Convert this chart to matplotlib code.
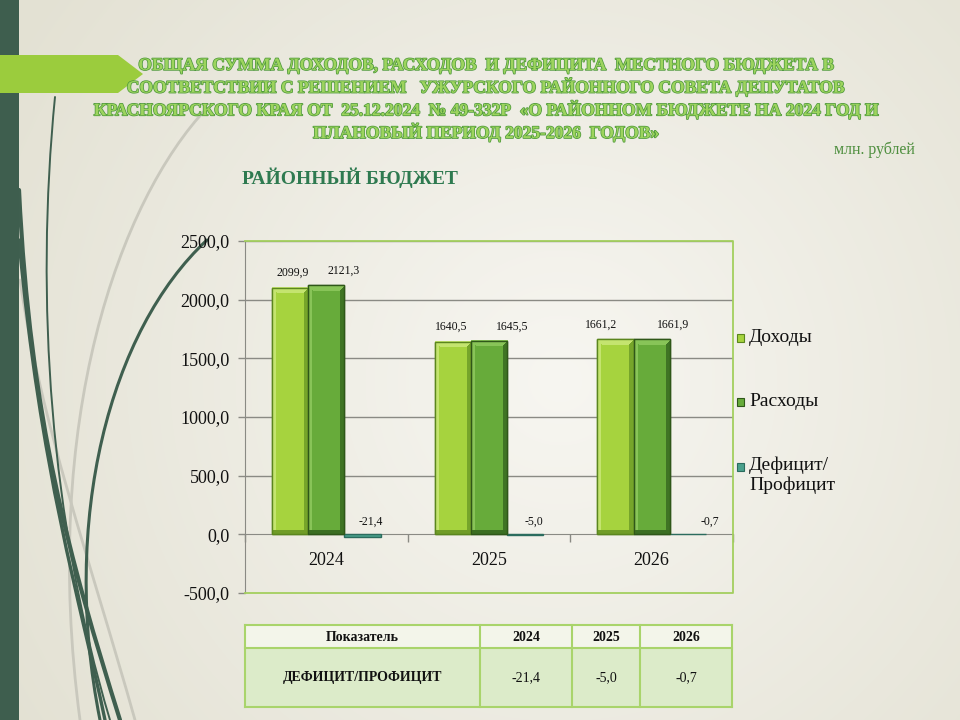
import numpy as np
import matplotlib
matplotlib.use("Agg")
import matplotlib.pyplot as plt
from matplotlib.patches import Rectangle, Polygon, PathPatch
from matplotlib.path import Path
import matplotlib.patheffects as pe
from matplotlib.colors import to_rgb

# ---------------- data ----------------
years = ["2024", "2025", "2026"]
series_names = ["Доходы", "Расходы", "Дефицит/\nПрофицит"]
income = [2099.9, 1640.5, 1661.2]
expenses = [2121.3, 1645.5, 1661.9]
deficit = [-21.4, -5.0, -0.7]
y_ticks = [-500, 0, 500, 1000, 1500, 2000, 2500]
table_header = ["Показатель", "2024", "2025", "2026"]
table_row_label = "ДЕФИЦИТ/ПРОФИЦИТ"

title_lines = [
    "ОБЩАЯ СУММА ДОХОДОВ, РАСХОДОВ  И ДЕФИЦИТА  МЕСТНОГО БЮДЖЕТА В",
    "СООТВЕТСТВИИ С РЕШЕНИЕМ   УЖУРСКОГО РАЙОННОГО СОВЕТА ДЕПУТАТОВ",
    "КРАСНОЯРСКОГО КРАЯ ОТ  25.12.2024  № 49-332Р  «О РАЙОННОМ БЮДЖЕТЕ НА 2024 ГОД И",
    "ПЛАНОВЫЙ ПЕРИОД 2025-2026  ГОДОВ»",
]
subtitle = "РАЙОННЫЙ БЮДЖЕТ"
units = "млн. рублей"

# label offsets (pixels) per series / category — manual placement as in the reference
label_dx = [[2, -2, -14], [17, 23, 21], [8, 9, 22]]

def fmt(v):
    return f"{v:.1f}".replace(".", ",")

W, H = 960, 720
fig = plt.figure(figsize=(W / 100, H / 100), dpi=100)
SERIF = ["Liberation Serif", "DejaVu Serif"]

def fx(x):
    return x / W

def fy(y):
    return 1 - y / H

# ---------------- background ----------------
bg = fig.add_axes([0, 0, 1, 1], zorder=-10)
bg.set_xlim(0, W)
bg.set_ylim(H, 0)
bg.axis("off")
yy, xx = np.mgrid[0:H, 0:W]
d = np.sqrt((xx - 560) ** 2 + (yy - 380) ** 2)
t = np.clip(d / 650, 0, 1)[..., None]
c0 = np.array(to_rgb("#f7f6f1"))
c1 = np.array(to_rgb("#e3e1d3"))
img = c0 * (1 - t) + c1 * t
bg.imshow(img, extent=(0, W, H, 0), aspect="auto", zorder=0)

def curve(pts, color, lw, alpha=1.0):
    codes = [Path.MOVETO] + [Path.CURVE4] * (len(pts) - 1)
    p = Path(pts, codes)
    bg.add_patch(PathPatch(p, facecolor="none", edgecolor=color, lw=lw, alpha=alpha, zorder=2,
                           capstyle="round"))

dark = "#3f5f4f"
grey = "#c9c8bd"
curve([(207, 108), (120, 200), (40, 420), (80, 720)], grey, 2.0)
curve([(20, 280), (40, 420), (90, 560), (135, 720)], grey, 2.0)
curve([(55, 97), (35, 300), (50, 520), (110, 720)], dark, 1.4)
curve([(19, 190), (30, 420), (70, 560), (120, 720)], dark, 3.0)
curve([(19, 240), (40, 470), (80, 600), (105, 720)], dark, 2.4)
curve([(207, 240), (110, 330), (60, 520), (100, 720)], dark, 2.2)

bg.add_patch(Rectangle((0, 0), 19, H, facecolor="#3e5e4e", edgecolor="none", zorder=3))
bg.add_patch(Polygon([(0, 55), (118, 55), (143, 74), (118, 93), (0, 93)], closed=True,
                     facecolor="#9bcc3d", edgecolor="none", zorder=4))

# ---------------- title texts ----------------
fig.text(fx(486), fy(100), "\n".join(title_lines), ha="center", va="center",
         fontsize=12.6, fontweight="bold", family=SERIF, color="#9dd45e",
         linespacing=1.29,
         path_effects=[pe.withStroke(linewidth=1.1, foreground="#4f9a3c")])
fig.text(fx(915), fy(150), units, ha="right", va="center", fontsize=11.5, family=SERIF,
         color="#4f8f3f")
fig.text(fx(242), fy(178), subtitle, ha="left", va="center", fontsize=14,
         fontweight="bold", family=SERIF, color="#2e7a50")

# ---------------- chart ----------------
L, R, T, B = 245, 733, 241, 593
ax = fig.add_axes([fx(L), fy(B), (R - L) / W, (B - T) / H])
ax.set_facecolor("none")
ax.set_xlim(-0.5, 2.5)
ax.set_ylim(-500, 2500)

for v in y_ticks:
    if v not in (0, -500):
        ax.axhline(v, color="#8a8a84", lw=1.0, zorder=1)

ax.spines["top"].set_visible(False)
ax.spines["right"].set_visible(False)
ax.spines["bottom"].set_position(("data", 0))
ax.spines["bottom"].set_color("#8a8a84")
ax.spines["left"].set_color("#8a8a84")
border = "#a3cf5e"
ax.plot([0, 1, 1, 0], [1, 1, 0, 0], transform=ax.transAxes, color=border, lw=1.3,
        clip_on=False, zorder=3)

ax.set_yticks(y_ticks)
ax.set_yticklabels([fmt(v) for v in y_ticks], fontsize=13, family=SERIF, color="#111111")
ax.tick_params(axis="y", direction="out", length=5, width=1, color="#8a8a84", pad=6)
ax.set_xticks([-0.5, 0.5, 1.5, 2.5])
ax.set_xticklabels([])
ax.tick_params(axis="x", which="major", direction="out", length=6, width=1, color="#8a8a84")
ax.set_xticks([0, 1, 2], minor=True)
ax.set_xticklabels(years, minor=True, fontsize=13, family=SERIF, color="#111111")
ax.tick_params(axis="x", which="minor", length=0, pad=13)

bw = 0.222
offsets = [-bw, 0, bw]
x = np.arange(len(years))
styles = [
    dict(base="#a6d33e", light="#c4e46f", darkc="#76a52a", edge="#5b861e"),
    dict(base="#67ab3a", light="#88c458", darkc="#3f7424", edge="#2f5719"),
    dict(base="#4aa08c", light="#6dbba6", darkc="#2f7868", edge="#2b6c5e"),
]
all_series = [income, expenses, deficit]

fig.canvas.draw()

def shaded_bar(xc, val, st):
    patch = ax.bar(xc, val, width=bw, color=st["base"], edgecolor=st["edge"], lw=1.0, zorder=4)[0]
    if abs(val) < 100:
        return patch
    x0, x1 = xc - bw / 2, xc + bw / 2
    p0 = ax.transData.transform((x0, 0))
    p1 = ax.transData.transform((x1, val))
    nr, nc = int(abs(p1[1] - p0[1])), int(abs(p1[0] - p0[0]))
    base = np.array(to_rgb(st["base"]))
    light = np.array(to_rgb(st["light"]))
    dk = np.array(to_rgb(st["darkc"]))
    im = np.ones((nr, nc, 3)) * base
    im[:, :4] = light
    im[:, nc - 5:] = dk
    for r in range(min(6, nr)):
        im[r, r:nc - r] = light
    im[max(nr - 4, 0):, :] = dk * 0.95
    ax.imshow(im, extent=(x0, x1, 0, val), aspect="auto", zorder=4.5, interpolation="nearest")
    ax.add_patch(Rectangle((x0, 0), bw, val, facecolor="none", edgecolor=st["edge"], lw=1.0,
                           zorder=5))
    return patch

for si, (vals, st) in enumerate(zip(all_series, styles)):
    for ci, v in enumerate(vals):
        xc = x[ci] + offsets[si]
        shaded_bar(xc, v, st)
        top = max(v, 0)
        dy = 15 if si < 2 else 13
        ax.annotate(fmt(v), (xc, top), xytext=(label_dx[si][ci] * 0.72, dy * 0.72),
                    textcoords="offset points", ha="center", va="center", fontsize=8.5,
                    family=SERIF, color="#111111", zorder=6)
ax.set_xlim(-0.5, 2.5)
ax.set_ylim(-500, 2500)

# ---------------- legend ----------------
leg_y = [338, 402, 467]
for name, st, ly in zip(series_names, styles, leg_y):
    fig.patches.append(Rectangle((fx(737), fy(ly + 4)), 7 / W, 8 / H, transform=fig.transFigure,
                                 facecolor=st["base"], edgecolor=st["edge"], lw=0.8))
    if "\n" in name:
        fig.text(fx(749), fy(ly - 11), name, ha="left", va="top", fontsize=14, family=SERIF,
                 color="#111111", linespacing=1.2)
    else:
        fig.text(fx(749), fy(ly), name, ha="left", va="center", fontsize=14, family=SERIF,
                 color="#111111")

# ---------------- table ----------------
tx0, tx1, ty0, ty1 = 245, 732, 625, 707
tax = fig.add_axes([fx(tx0), fy(ty1), (tx1 - tx0) / W, (ty1 - ty0) / H])
tax.set_xlim(tx0, tx1)
tax.set_ylim(ty1, ty0)
tax.axis("off")
cols = [245, 480, 572, 640, 732]
hdr_bottom = 648
tax.add_patch(Rectangle((tx0, ty0), tx1 - tx0, hdr_bottom - ty0, facecolor="#f3f5ea",
                        edgecolor="none"))
tax.add_patch(Rectangle((tx0, hdr_bottom), tx1 - tx0, ty1 - hdr_bottom, facecolor="#dcebc9",
                        edgecolor="none"))
tcol = "#a9d46b"
for cx in cols:
    tax.plot([cx, cx], [ty0, ty1], color=tcol, lw=1.5, clip_on=False)
for ry in (ty0, hdr_bottom, ty1):
    tax.plot([tx0, tx1], [ry, ry], color=tcol, lw=1.5, clip_on=False)
for i, h in enumerate(table_header):
    tax.text((cols[i] + cols[i + 1]) / 2, (ty0 + hdr_bottom) / 2 + 1, h, ha="center",
             va="center", fontsize=10, fontweight="bold", family=SERIF, color="#111111")
tax.text((cols[0] + cols[1]) / 2, (hdr_bottom + ty1) / 2, table_row_label, ha="center",
         va="center", fontsize=10, fontweight="bold", family=SERIF, color="#111111")
for i, v in enumerate(deficit):
    tax.text((cols[i + 1] + cols[i + 2]) / 2, (hdr_bottom + ty1) / 2, fmt(v), ha="center",
             va="center", fontsize=10, family=SERIF, color="#111111")

fig.savefig("out.png", dpi=100)
